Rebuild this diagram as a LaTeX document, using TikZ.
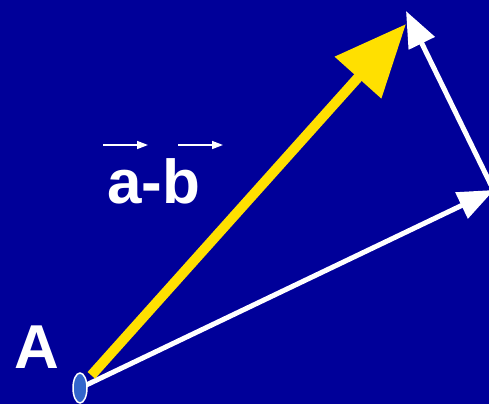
\documentclass[tikz,border=0pt]{standalone}
\usepackage{fontspec}
\setmainfont{Liberation Sans}
\usetikzlibrary{arrows.meta,shapes.geometric}
\definecolor{slideblue}{RGB}{0,0,153}
\definecolor{vecyellow}{RGB}{255,224,0}
\definecolor{pointblue}{RGB}{51,102,204}

\begin{document}
\begin{tikzpicture}[
  x=1pt, y=-1pt,
  bigtext/.style={text=white, font=\bfseries\fontsize{62}{74}\selectfont, inner sep=0pt, anchor=base},
  sumvec/.style={-{Triangle[length=72pt,width=60pt]}, vecyellow, line width=10pt},
  vec/.style={-{Triangle[length=36pt,width=28pt]}, white, line width=5pt},
  overvec/.style={-{Triangle[length=11pt,width=8pt]}, white, line width=1.5pt},
  dot/.style={ellipse, draw=white, fill=pointblue, line width=1.5pt, minimum width=14pt, minimum height=30pt, inner sep=0pt}
]
\fill[slideblue] (0,0) rectangle (489,404);
\useasboundingbox (0,0) rectangle (489,404);

\coordinate (A) at (80,388);
\coordinate (sumtip) at (406,24);
\coordinate (btip) at (494,190);
\coordinate (bstart) at (491,185);
\coordinate (atip) at (406,11);
\coordinate (oaL) at (103,145);
\coordinate (oaR) at (148,145);
\coordinate (obL) at (178,145);
\coordinate (obR) at (223,145);

\node[bigtext] (Alabel) at (37,368) {A};
\node[bigtext] (diff) at (154,203) {a-b};

\draw[vec] (A) -- (btip);
\draw[vec] (bstart) -- (atip);
\draw[sumvec, shorten <=17pt] (A) -- (sumtip);
\node[dot] (Apoint) at (A) {};

% arrows over a and b
\draw[overvec] (oaL) -- (oaR);
\draw[overvec] (obL) -- (obR);
\end{tikzpicture}
\end{document}
